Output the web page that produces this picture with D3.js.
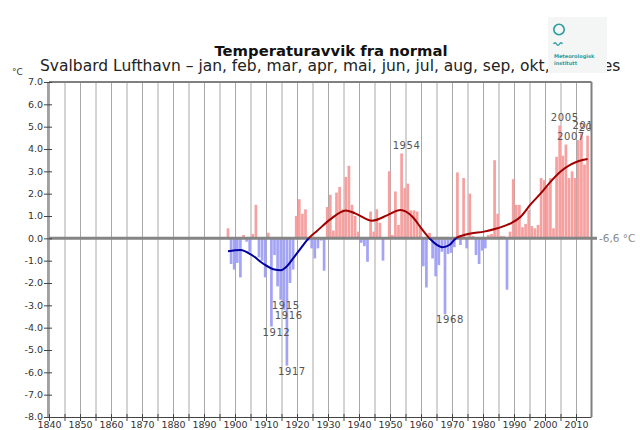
<!DOCTYPE html>
<html><head><meta charset="utf-8">
<script src="https://cdn.jsdelivr.net/npm/d3@7"></script>
<style>body{margin:0;background:#fff;}svg{display:block;}</style>
</head><body>
<svg id="chart" width="640" height="430"></svg>
<script>
// ---- data ----
const firstYear = 1898;
const anomalies = [
  0.45,-1.15,-1.4,-1.1,-1.75,0.15,-0.15,-0.6,0.2,1.5,          // 1898-1907
  -0.85,-1.0,-1.75,0.25,-3.95,-0.75,-2.15,-2.75,-3.2,-5.7,     // 1908-1917
  -2.0,-1.4,1.0,1.75,1.1,1.3,-0.1,-0.45,-0.9,-0.45,            // 1918-1927
  -0.1,-1.45,1.4,1.95,0.35,2.05,2.3,1.3,2.75,3.25,             // 1928-1937
  1.5,1.0,0.3,-0.2,-0.35,-1.05,1.2,0.3,1.3,0.7,                // 1938-1947
  -1.0,0.05,3.0,0.15,2.1,0.6,3.8,2.25,2.45,1.25,               // 1948-1957
  1.25,1.2,0.6,-1.25,-2.2,0.25,-0.9,-1.7,-1.2,-0.6,            // 1958-1967
  -3.4,-0.7,-0.65,-0.4,2.95,-0.3,2.7,-0.45,2.0,0.1,            // 1968-1977
  -0.75,-1.15,-0.55,-0.45,0.15,0.2,3.5,1.1,0.1,0.1,            // 1978-1987
  -2.3,0.3,2.65,1.5,1.5,0.5,0.65,1.25,0.55,0.45,               // 1988-1997
  0.6,2.7,2.6,2.3,2.7,0.45,3.65,5.05,3.7,4.2,                  // 1998-2007
  2.7,3.0,2.7,4.4,4.7,3.3,4.6                                  // 2008-2014
];
const years = anomalies.map((d, i) => firstYear + i);
const smoothYears  = [1898,1902,1906,1909.5,1913,1915,1917,1919,1921.7,1924,1926.7,1931,1936,1939,1944.5,1949.5,1953.6,1957.5,1960.5,1963,1965.5,1967.2,1969.4,1971.5,1974.2,1976.3,1980.6,1984.9,1989.2,1992.4,1995.6,1998.8,2002.1,2005.3,2008.5,2011.2,2014];
const smoothValues = [-0.58,-0.52,-0.78,-1.15,-1.4,-1.43,-1.25,-0.9,-0.4,0.0,0.33,0.85,1.25,1.12,0.79,1.04,1.27,0.97,0.42,0.0,-0.3,-0.4,-0.3,0.0,0.15,0.22,0.3,0.45,0.67,0.97,1.52,2.0,2.54,2.99,3.3,3.46,3.55];
const labeledYears = [1912,1915,1916,1917,1954,1968,2005,2007,2012,2014];
const xTickYears = d3.range(1840, 2011, 10);
const xGridYears = d3.range(1840, 2011, 5);
const yTicks = d3.range(-8, 7.01, 1);
const normalLabel = "-6,6 °C";
const titleText = "Temperaturavvik fra normal";
const subtitleText = "Svalbard Lufthavn – jan, feb, mar, apr, mai, jun, jul, aug, sep, okt, nov, des";

// ---- layout ----
const svg = d3.select("#chart");
const font = "DejaVu Sans, Verdana, sans-serif";
const x = d3.scaleLinear().domain([1840, 2015]).range([49, 591.5]);
const y = d3.scaleLinear().domain([-8, 7]).range([417, 82]);
const barW = 2.7;
const bx = yr => x(yr) - 0.8;

// title
svg.append("text").attr("x", 331).attr("y", 56).attr("text-anchor", "middle")
  .attr("font-family", font).attr("font-weight", "bold").attr("font-size", 14.8)
  .attr("fill", "#111").text(titleText);
svg.append("text").attr("x", 40).attr("y", 71)
  .attr("font-family", font).attr("font-size", 15.5).attr("fill", "#222").text(subtitleText);

// logo
const logo = svg.append("g");
logo.append("rect").attr("x", 548).attr("y", 17).attr("width", 59).attr("height", 56).attr("fill", "#f4f6f6");
logo.append("circle").attr("cx", 559).attr("cy", 29.5).attr("r", 5.2).attr("fill", "none").attr("stroke", "#2a9ca0").attr("stroke-width", 1.6);
logo.append("path").attr("d", "M553.5,44 q1.5,-2.5 3,0 t3,0 t3,0").attr("fill", "none").attr("stroke", "#2a9ca0").attr("stroke-width", 1.3);
logo.append("text").attr("x", 554).attr("y", 58).attr("font-family", font).attr("font-weight", "bold")
  .attr("font-size", 5).attr("fill", "#2a9ca0").text("Meteorologisk");
logo.append("text").attr("x", 554).attr("y", 64.5).attr("font-family", font).attr("font-weight", "bold")
  .attr("font-size", 5).attr("fill", "#2a9ca0").text("institutt");

// unit label
svg.append("text").attr("x", 12).attr("y", 75).attr("font-family", font).attr("font-size", 9)
  .attr("fill", "#333").text("°C");

// vertical grid lines
svg.append("g").selectAll("line").data(xGridYears).join("line")
  .attr("x1", d => x(d) + 0.5).attr("x2", d => x(d) + 0.5)
  .attr("y1", y(7)).attr("y2", y(-8))
  .attr("stroke", "#a8a8a8").attr("stroke-width", 1);

// clip for plot area
const defs = svg.append("defs");
defs.append("clipPath").attr("id", "plotClip").append("rect")
  .attr("x", x(1840)).attr("y", y(7)).attr("width", x(2015) - x(1840)).attr("height", y(-8) - y(7));
defs.append("clipPath").attr("id", "posClip").append("rect")
  .attr("x", 0).attr("y", 0).attr("width", 640).attr("height", y(0));
defs.append("clipPath").attr("id", "negClip").append("rect")
  .attr("x", 0).attr("y", y(0)).attr("width", 640).attr("height", 430 - y(0));

// bars
svg.append("g").selectAll("rect").data(years).join("rect")
  .attr("x", (d) => bx(d) - barW / 2)
  .attr("width", barW)
  .attr("y", (d, i) => y(Math.max(0, anomalies[i])))
  .attr("height", (d, i) => Math.abs(y(anomalies[i]) - y(0)))
  .attr("fill", (d, i) => anomalies[i] >= 0 ? "#f6a0a0" : "#a4a4f6");

// zero line
svg.append("line").attr("x1", x(1840)).attr("x2", 597).attr("y1", y(0)).attr("y2", y(0))
  .attr("stroke", "#858585").attr("stroke-width", 3);
svg.append("text").attr("x", 599).attr("y", y(0)).attr("dy", "0.35em")
  .attr("font-family", font).attr("font-size", 10.5).attr("fill", "#8a8a8a").text(normalLabel);

// smoothed curve
const pts = smoothYears.map((yr, i) => [yr, smoothValues[i]]);
const line = d3.line().x(d => bx(d[0])).y(d => y(d[1])).curve(d3.curveMonotoneX);
svg.append("path").datum(pts).attr("d", line).attr("fill", "none")
  .attr("stroke", "#a00000").attr("stroke-width", 2).attr("clip-path", "url(#posClip)");
svg.append("path").datum(pts).attr("d", line).attr("fill", "none")
  .attr("stroke", "#0000a0").attr("stroke-width", 2).attr("clip-path", "url(#negClip)");

// year labels
svg.append("g").attr("clip-path", "url(#plotClip)").selectAll("text").data(labeledYears).join("text")
  .attr("x", d => bx(d) + 5)
  .attr("y", d => { const v = anomalies[d - firstYear]; return v >= 0 ? y(v) - 4.5 : y(v) + 9; })
  .attr("text-anchor", "middle").attr("font-family", font).attr("font-size", 10)
  .attr("letter-spacing", 0.6).attr("fill", "#555").text(d => d);

// frame: top and right
svg.append("line").attr("x1", x(1840)).attr("x2", x(2015)).attr("y1", y(7)).attr("y2", y(7))
  .attr("stroke", "#808080").attr("stroke-width", 2);
svg.append("line").attr("x1", x(2015)).attr("x2", x(2015)).attr("y1", y(7)).attr("y2", y(-8))
  .attr("stroke", "#808080").attr("stroke-width", 2);

// y axis
const yAxis = svg.append("g");
yAxis.append("line").attr("x1", 48).attr("x2", 48).attr("y1", y(7)).attr("y2", y(-8))
  .attr("stroke", "#444").attr("stroke-width", 1);
yAxis.selectAll("line.t").data(yTicks).join("line").attr("class", "t")
  .attr("x1", 44).attr("x2", 52).attr("y1", d => y(d) + 0.5).attr("y2", d => y(d) + 0.5)
  .attr("stroke", "#444");
yAxis.selectAll("text").data(yTicks).join("text")
  .attr("x", 43).attr("y", d => y(d)).attr("dy", "0.35em").attr("text-anchor", "end")
  .attr("font-family", font).attr("font-size", 9.5).attr("fill", "#333")
  .text(d => d3.format(".1f")(d).replace("−", "-"));

// x axis
const xAxis = svg.append("g");
xAxis.append("line").attr("x1", 48).attr("x2", x(2015)).attr("y1", y(-8) + 0.5).attr("y2", y(-8) + 0.5)
  .attr("stroke", "#444");
xAxis.selectAll("line.t").data(xGridYears).join("line").attr("class", "t")
  .attr("x1", d => x(d) + 0.5).attr("x2", d => x(d) + 0.5).attr("y1", y(-8) - 3).attr("y2", y(-8) + 4)
  .attr("stroke", "#444");
xAxis.selectAll("text").data(xTickYears).join("text")
  .attr("x", d => x(d) + 0.5).attr("y", 428).attr("text-anchor", "middle")
  .attr("font-family", font).attr("font-size", 9.5).attr("fill", "#333").text(d => d);
</script>
</body></html>
